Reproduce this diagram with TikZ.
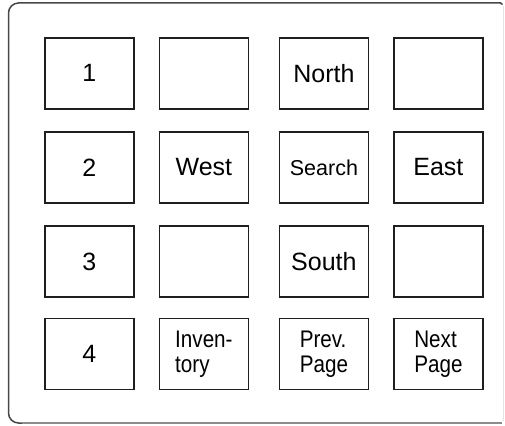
\documentclass[tikz,border=0pt]{standalone}
\usepackage{fontspec}
\setmainfont{Liberation Sans}
\newfontfamily\narrowfont[FakeStretch=0.86]{Liberation Sans}
\begin{document}
\begin{tikzpicture}[x=1pt,y=-1pt,
  keybox/.style={draw=black!88, line width=1.8pt, minimum width=89pt, minimum height=71pt,
    inner sep=0pt, anchor=north west, align=left, font=\fontsize{25}{25}\selectfont},
  small/.style={font=\fontsize{21.5}{25}\selectfont},
  twoline/.style={font=\narrowfont\fontsize{24}{25}\selectfont},
  frameline/.style={draw=black!72, line width=1.5pt},
  framelow/.style={draw=black!45, line width=1.3pt}]
\useasboundingbox (0,0) rectangle (505,425);
% outer frame
\draw[frameline, rounded corners=10pt] (501,3) -- (8.5,3) -- (8.5,423) -- (24,423);
\draw[framelow] (22,423) -- (502,423);
\draw[draw=black!10, line width=0.8pt] (503.8,6) -- (503.8,421);
\draw[frameline] (500.5,3) -- (502.5,4.5);
% row 1
\node[keybox] (k11) at (44,37) {1};
\node[keybox] (k12) at (158.5,37) {};
\node[keybox] (k13) at (278.5,37) {North};
\node[keybox] (k14) at (393,37) {};
% row 2
\node[keybox] (k21) at (44,131) {2};
\node[keybox] (k22) at (158.5,131) {West};
\node[keybox, small] (k23) at (278.5,131) {Search};
\node[keybox] (k24) at (393,131) {East};
% row 3
\node[keybox] (k31) at (44,225) {3};
\node[keybox] (k32) at (158.5,225) {};
\node[keybox] (k33) at (278.5,225) {South};
\node[keybox] (k34) at (393,225) {};
% row 4
\node[keybox] (k41) at (44,317.5) {4};
\node[keybox, twoline] (k42) at (158.5,317.5) {Inven-\\tory};
\node[keybox, twoline] (k43) at (278.5,317.5) {Prev.\\Page};
\node[keybox, twoline] (k44) at (393,317.5) {Next\\Page};
\end{tikzpicture}
\end{document}
